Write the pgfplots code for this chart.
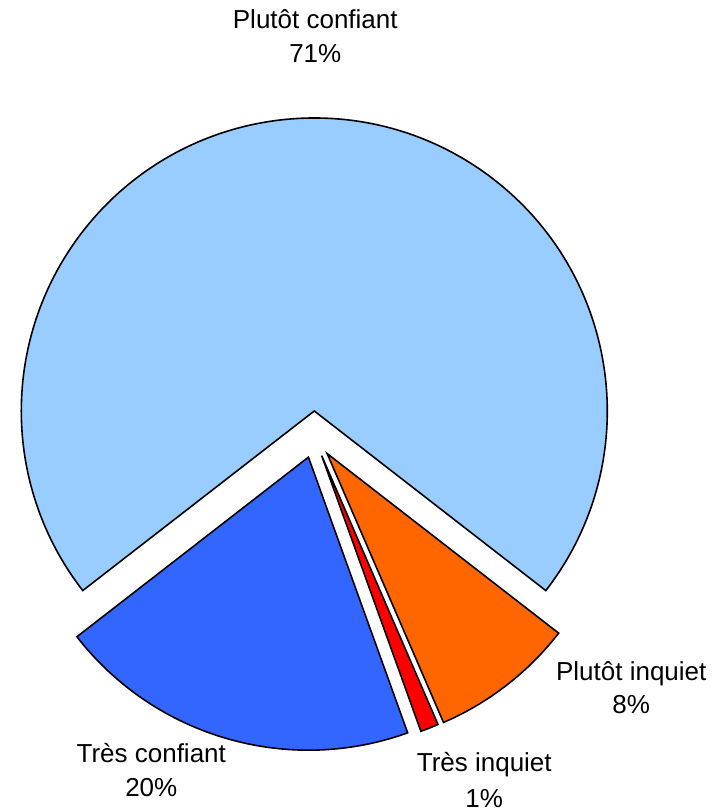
\documentclass[border=0pt]{standalone}
\usepackage{pgfplots}
\pgfplotsset{compat=1.18}
\usepackage{pgfplotstable}
\usepackage{fontspec}
\setmainfont{Liberation Sans}

\definecolor{slicecolor0}{HTML}{99CCFF}
\definecolor{slicecolor1}{HTML}{3366FF}
\definecolor{slicecolor2}{HTML}{FF0000}
\definecolor{slicecolor3}{HTML}{FF6600}

% share in %, explosion offset in pt
\pgfplotstableread[col sep=comma]{
label,value,explode
Plutot confiant,71,26
Tres confiant,20,21
Tres inquiet,1,20
Plutot inquiet,8,21
}\piedata

\newcommand\cx{313}
\newcommand\cy{374}
\newcommand\rad{293}

\newcommand\pieslice[4]{%
  \pgfmathsetmacro\sa{#1}%
  \pgfmathsetmacro\ea{#1+3.6*#2}%
  \pgfmathsetmacro\ma{(\sa+\ea)/2}%
  \pgfmathsetmacro\tx{\cx+#3*cos(\ma)}%
  \pgfmathsetmacro\ty{\cy+#3*sin(\ma)}%
  \edef\temp{\noexpand\filldraw[fill=#4,draw=black,line width=1.6pt]
    (axis cs:\tx,\ty) -- ++(\sa:\rad pt) arc[start angle=\sa,end angle=\ea,radius=\rad pt] -- cycle;}%
  \temp
}

\begin{document}
\begin{tikzpicture}[lbl/.style={font=\fontsize{26}{34}\selectfont, anchor=base, inner sep=0pt}]
  \begin{axis}[
      hide axis,
      scale only axis,
      width=712pt, height=811pt,
      xmin=0, xmax=712,
      ymin=0, ymax=811,
      clip=false,
    ]
    \path (rel axis cs:0,0) rectangle (rel axis cs:1,1);
    \pgfplotstablegetelem{0}{value}\of\piedata
    \pgfmathsetmacro\cur{90-1.8*\pgfplotsretval}
    \pgfplotsforeachungrouped \i in {0,...,3}{%
      \pgfplotstablegetelem{\i}{value}\of\piedata
      \let\v\pgfplotsretval
      \pgfplotstablegetelem{\i}{explode}\of\piedata
      \let\e\pgfplotsretval
      \pieslice{\cur}{\v}{\e}{slicecolor\i}%
      \pgfmathsetmacro\cur{\cur+3.6*\v}%
    }
    \node[lbl] at (axis cs:314,782) {Plutôt confiant};
    \node[lbl] at (axis cs:314,748) {71\%};
    \node[lbl] at (axis cs:150,48) {Très confiant};
    \node[lbl] at (axis cs:150,14) {20\%};
    \node[lbl] at (axis cs:483,39) {Très inquiet};
    \node[lbl] at (axis cs:483,4) {1\%};
    \node[lbl] at (axis cs:630,130) {Plutôt inquiet};
    \node[lbl] at (axis cs:630,97) {8\%};
  \end{axis}
\end{tikzpicture}
\end{document}
